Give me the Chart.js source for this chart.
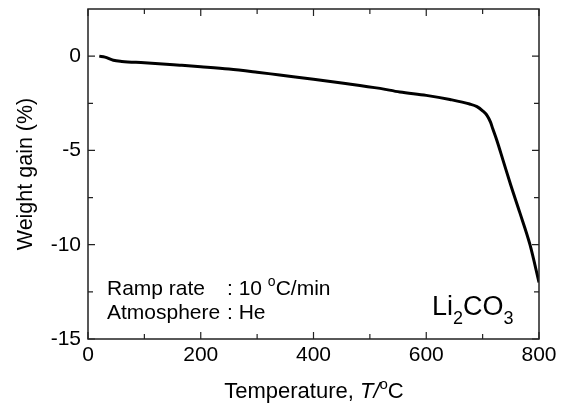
<!DOCTYPE html>
<html>
<head>
<meta charset="utf-8">
<script src="https://cdn.jsdelivr.net/npm/chart.js@4/dist/chart.umd.min.js"></script>
<style>
html,body{margin:0;padding:0;background:#fff;}
#wrap{width:561px;height:408px;position:relative;}
</style>
</head>
<body>
<div id="wrap"><canvas id="c" width="561" height="408"></canvas></div>
<script>
// Temperature (°C)
const temperature = [20, 30, 45, 60, 100, 163, 200, 250, 300, 340, 400, 450, 518, 553, 600, 642, 677, 690, 700, 708, 714, 718, 725, 736, 750, 766, 784, 800];
// Weight gain (%)
const weightGain = [0, -0.05, -0.22, -0.28, -0.35, -0.48, -0.56, -0.68, -0.85, -1.0, -1.22, -1.42, -1.71, -1.9, -2.08, -2.3, -2.54, -2.68, -2.9, -3.15, -3.5, -3.85, -4.45, -5.5, -6.85, -8.3, -10.0, -12.0];
const xMajorTicks = [0, 200, 400, 600, 800];
const xMinorTicks = [100, 300, 500, 700];
const yMajorTicks = [-15, -10, -5, 0];
const yMinorTicks = [-12.5, -7.5, -2.5];

const FONT = '"Liberation Sans", Arial, Helvetica, sans-serif';
const points = temperature.map((t, i) => ({x: t, y: weightGain[i]}));

const framePlugin = {
  id: 'frame',
  afterDraw(chart) {
    const ctx = chart.ctx;
    const a = chart.chartArea;
    const xs = chart.scales.x, ys = chart.scales.y;
    ctx.save();
    ctx.strokeStyle = '#222';
    ctx.lineWidth = 1.5;
    ctx.strokeRect(a.left, a.top, a.right - a.left, a.bottom - a.top);
    ctx.lineWidth = 1.2;
    ctx.beginPath();
    const tick = (v, len, isX) => {
      if (isX) {
        const p = xs.getPixelForValue(v);
        ctx.moveTo(p, a.bottom); ctx.lineTo(p, a.bottom - len);
        ctx.moveTo(p, a.top); ctx.lineTo(p, a.top + len);
      } else {
        const p = ys.getPixelForValue(v);
        ctx.moveTo(a.left, p); ctx.lineTo(a.left + len, p);
        ctx.moveTo(a.right, p); ctx.lineTo(a.right - len, p);
      }
    };
    xMajorTicks.forEach(v => tick(v, 7, true));
    xMinorTicks.forEach(v => tick(v, 5, true));
    yMajorTicks.forEach(v => tick(v, 7, false));
    yMinorTicks.forEach(v => tick(v, 5, false));
    ctx.stroke();

    ctx.fillStyle = '#000';
    ctx.textBaseline = 'alphabetic';
    // Y axis title
    ctx.save();
    ctx.translate(32, (a.top + a.bottom) / 2);
    ctx.rotate(-Math.PI / 2);
    ctx.textAlign = 'center';
    ctx.font = '21.5px ' + FONT;
    ctx.fillText('Weight gain (%)', 0, 0);
    ctx.restore();

    const drawRuns = (runs, xStart, baseline) => {
      let x = xStart;
      runs.forEach(r => {
        ctx.font = r.font;
        ctx.fillText(r.t, x, baseline + (r.dy || 0));
        x += ctx.measureText(r.t).width + (r.after || 0);
      });
      return x;
    };
    const measureRuns = (runs) => {
      let w = 0;
      runs.forEach(r => { ctx.font = r.font; w += ctx.measureText(r.t).width + (r.after || 0); });
      return w;
    };
    ctx.textAlign = 'left';
    // X axis title: Temperature, T/°C
    const xt = [
      {t: 'Temperature, ', font: '22px ' + FONT},
      {t: 'T', font: 'italic 22px ' + FONT},
      {t: '/', font: 'italic 22px ' + FONT},
      {t: 'o', font: '15px ' + FONT, dy: -9},
      {t: 'C', font: '22px ' + FONT}
    ];
    const xw = measureRuns(xt);
    drawRuns(xt, 314 - xw / 2, 398);

    // Annotation
    ctx.font = '21px ' + FONT;
    ctx.fillText('Ramp rate', 107, 295);
    ctx.fillText('Atmosphere', 107, 319);
    drawRuns([
      {t: ': 10 ', font: '21px ' + FONT},
      {t: 'o', font: '14px ' + FONT, dy: -9},
      {t: 'C/min', font: '21px ' + FONT}
    ], 227, 295);
    ctx.font = '21px ' + FONT;
    ctx.fillText(': He', 227, 319);

    // Li2CO3
    drawRuns([
      {t: 'Li', font: '27px ' + FONT},
      {t: '2', font: '18px ' + FONT, dy: 9},
      {t: 'CO', font: '27px ' + FONT},
      {t: '3', font: '18px ' + FONT, dy: 9}
    ], 432, 315);
    ctx.restore();
  }
};

new Chart(document.getElementById('c'), {
  type: 'line',
  data: {
    datasets: [{
      data: points,
      borderColor: '#000',
      borderWidth: 3,
      pointRadius: 0,
      fill: false,
      cubicInterpolationMode: 'monotone'
    }]
  },
  options: {
    responsive: false,
    animation: false,
    devicePixelRatio: 1,
    layout: {padding: {left: 0, right: 22, top: 9, bottom: 0}},
    plugins: {legend: {display: false}, tooltip: {enabled: false}},
    scales: {
      x: {
        type: 'linear',
        min: 0, max: 800,
        grid: {display: false, drawTicks: false},
        border: {display: false},
        afterFit(s) { s.height = 69; s.paddingLeft = 0; s.paddingRight = 0; },
        ticks: {
          stepSize: 200,
          padding: 4,
          color: '#000',
          font: {family: FONT, size: 21},
          maxRotation: 0
        }
      },
      y: {
        type: 'linear',
        min: -15, max: 2.5,
        grid: {display: false, drawTicks: false},
        border: {display: false},
        afterFit(s) { s.width = 88; s.paddingTop = 0; s.paddingBottom = 0; },
        ticks: {
          stepSize: 5,
          includeBounds: false,
          padding: 7,
          color: '#000',
          font: {family: FONT, size: 21},
          callback: v => (v % 5 === 0 ? String(v) : '')
        }
      }
    }
  },
  plugins: [framePlugin]
});
</script>
</body>
</html>
